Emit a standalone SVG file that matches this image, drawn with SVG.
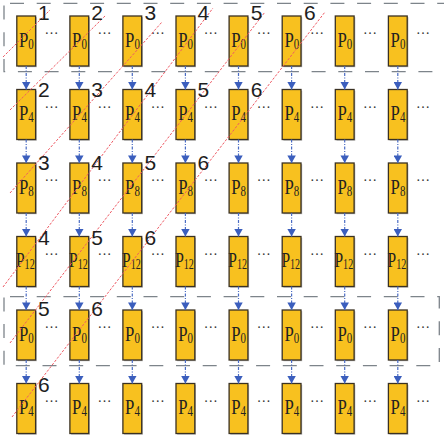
<svg xmlns="http://www.w3.org/2000/svg" xmlns:xlink="http://www.w3.org/1999/xlink" width="444" height="441" viewBox="0 0 444 441">
<style>
.sh{fill:#9c9c9c;opacity:.75}
.box{fill:#F8C11F;stroke:#3a3122;stroke-width:1.3}
.p{font-family:"Liberation Serif","Times New Roman",serif;font-size:21.5px;fill:#222}
.s{font-size:14px}
.d{font-family:"Liberation Serif","Times New Roman",serif;font-size:14px;fill:#333;text-anchor:middle}
.lb{font-family:"Liberation Sans",Arial,sans-serif;font-size:21px;fill:#1e1e1e}
.frame{fill:none;stroke:#7d848a;stroke-width:1.3;stroke-dasharray:14 12.7;stroke-dashoffset:20.7}
.red{fill:none;stroke:#EE5A64;stroke-width:1;stroke-dasharray:2.5 1.6}
.con path{fill:none;stroke:#4a6cc4;stroke-width:1.2;stroke-dasharray:3 1.5 1 1.5;marker-end:url(#ah)}
</style>
<defs>
<marker id="ah" markerUnits="userSpaceOnUse" markerWidth="9" markerHeight="8" refX="4.25" refY="7.6" orient="0" viewBox="0 0 9 8">
<path d="M0,0 L8.5,0 L4.25,7.6 Z" fill="#3B5EBD"/>
</marker>
<g id="bx"><rect class="sh" x="1.2" y="1.2" width="18.8" height="50"/><rect class="box" width="18.8" height="50"/></g>
</defs>
<g id="frames">
<rect class="frame" x="4" y="3.3" width="450" height="68.4"/>
<rect class="frame" x="4" y="296.7" width="435.3" height="69"/>
</g>
<g id="nodes">
<g id="n1_1" transform="translate(16.8,16)"><use href="#bx"/><text class="p" transform="translate(2.2,30.7) scale(0.78,1)">P<tspan class="s" dy="2">0</tspan></text></g>
<g id="n1_2" transform="translate(69.9,16)"><use href="#bx"/><text class="p" transform="translate(2.2,30.7) scale(0.78,1)">P<tspan class="s" dy="2">0</tspan></text></g>
<g id="n1_3" transform="translate(122.9,16)"><use href="#bx"/><text class="p" transform="translate(2.2,30.7) scale(0.78,1)">P<tspan class="s" dy="2">0</tspan></text></g>
<g id="n1_4" transform="translate(176,16)"><use href="#bx"/><text class="p" transform="translate(2.2,30.7) scale(0.78,1)">P<tspan class="s" dy="2">0</tspan></text></g>
<g id="n1_5" transform="translate(229.1,16)"><use href="#bx"/><text class="p" transform="translate(2.2,30.7) scale(0.78,1)">P<tspan class="s" dy="2">0</tspan></text></g>
<g id="n1_6" transform="translate(282.2,16)"><use href="#bx"/><text class="p" transform="translate(2.2,30.7) scale(0.78,1)">P<tspan class="s" dy="2">0</tspan></text></g>
<g id="n1_7" transform="translate(335.3,16)"><use href="#bx"/><text class="p" transform="translate(2.2,30.7) scale(0.78,1)">P<tspan class="s" dy="2">0</tspan></text></g>
<g id="n1_8" transform="translate(388.4,16)"><use href="#bx"/><text class="p" transform="translate(2.2,30.7) scale(0.78,1)">P<tspan class="s" dy="2">0</tspan></text></g>

<g id="n2_1" transform="translate(16.8,89.5)"><use href="#bx"/><text class="p" transform="translate(2.2,30.7) scale(0.78,1)">P<tspan class="s" dy="2">4</tspan></text></g>
<g id="n2_2" transform="translate(69.9,89.5)"><use href="#bx"/><text class="p" transform="translate(2.2,30.7) scale(0.78,1)">P<tspan class="s" dy="2">4</tspan></text></g>
<g id="n2_3" transform="translate(122.9,89.5)"><use href="#bx"/><text class="p" transform="translate(2.2,30.7) scale(0.78,1)">P<tspan class="s" dy="2">4</tspan></text></g>
<g id="n2_4" transform="translate(176,89.5)"><use href="#bx"/><text class="p" transform="translate(2.2,30.7) scale(0.78,1)">P<tspan class="s" dy="2">4</tspan></text></g>
<g id="n2_5" transform="translate(229.1,89.5)"><use href="#bx"/><text class="p" transform="translate(2.2,30.7) scale(0.78,1)">P<tspan class="s" dy="2">4</tspan></text></g>
<g id="n2_6" transform="translate(282.2,89.5)"><use href="#bx"/><text class="p" transform="translate(2.2,30.7) scale(0.78,1)">P<tspan class="s" dy="2">4</tspan></text></g>
<g id="n2_7" transform="translate(335.3,89.5)"><use href="#bx"/><text class="p" transform="translate(2.2,30.7) scale(0.78,1)">P<tspan class="s" dy="2">4</tspan></text></g>
<g id="n2_8" transform="translate(388.4,89.5)"><use href="#bx"/><text class="p" transform="translate(2.2,30.7) scale(0.78,1)">P<tspan class="s" dy="2">4</tspan></text></g>

<g id="n3_1" transform="translate(16.8,163)"><use href="#bx"/><text class="p" transform="translate(2.2,30.7) scale(0.78,1)">P<tspan class="s" dy="2">8</tspan></text></g>
<g id="n3_2" transform="translate(69.9,163)"><use href="#bx"/><text class="p" transform="translate(2.2,30.7) scale(0.78,1)">P<tspan class="s" dy="2">8</tspan></text></g>
<g id="n3_3" transform="translate(122.9,163)"><use href="#bx"/><text class="p" transform="translate(2.2,30.7) scale(0.78,1)">P<tspan class="s" dy="2">8</tspan></text></g>
<g id="n3_4" transform="translate(176,163)"><use href="#bx"/><text class="p" transform="translate(2.2,30.7) scale(0.78,1)">P<tspan class="s" dy="2">8</tspan></text></g>
<g id="n3_5" transform="translate(229.1,163)"><use href="#bx"/><text class="p" transform="translate(2.2,30.7) scale(0.78,1)">P<tspan class="s" dy="2">8</tspan></text></g>
<g id="n3_6" transform="translate(282.2,163)"><use href="#bx"/><text class="p" transform="translate(2.2,30.7) scale(0.78,1)">P<tspan class="s" dy="2">8</tspan></text></g>
<g id="n3_7" transform="translate(335.3,163)"><use href="#bx"/><text class="p" transform="translate(2.2,30.7) scale(0.78,1)">P<tspan class="s" dy="2">8</tspan></text></g>
<g id="n3_8" transform="translate(388.4,163)"><use href="#bx"/><text class="p" transform="translate(2.2,30.7) scale(0.78,1)">P<tspan class="s" dy="2">8</tspan></text></g>

<g id="n4_1" transform="translate(16.8,236.5)"><use href="#bx"/><text class="p" transform="translate(-0.8,30.7) scale(0.72,1)">P<tspan class="s" dy="2">12</tspan></text></g>
<g id="n4_2" transform="translate(69.9,236.5)"><use href="#bx"/><text class="p" transform="translate(-0.8,30.7) scale(0.72,1)">P<tspan class="s" dy="2">12</tspan></text></g>
<g id="n4_3" transform="translate(122.9,236.5)"><use href="#bx"/><text class="p" transform="translate(-0.8,30.7) scale(0.72,1)">P<tspan class="s" dy="2">12</tspan></text></g>
<g id="n4_4" transform="translate(176,236.5)"><use href="#bx"/><text class="p" transform="translate(-0.8,30.7) scale(0.72,1)">P<tspan class="s" dy="2">12</tspan></text></g>
<g id="n4_5" transform="translate(229.1,236.5)"><use href="#bx"/><text class="p" transform="translate(-0.8,30.7) scale(0.72,1)">P<tspan class="s" dy="2">12</tspan></text></g>
<g id="n4_6" transform="translate(282.2,236.5)"><use href="#bx"/><text class="p" transform="translate(-0.8,30.7) scale(0.72,1)">P<tspan class="s" dy="2">12</tspan></text></g>
<g id="n4_7" transform="translate(335.3,236.5)"><use href="#bx"/><text class="p" transform="translate(-0.8,30.7) scale(0.72,1)">P<tspan class="s" dy="2">12</tspan></text></g>
<g id="n4_8" transform="translate(388.4,236.5)"><use href="#bx"/><text class="p" transform="translate(-0.8,30.7) scale(0.72,1)">P<tspan class="s" dy="2">12</tspan></text></g>

<g id="n5_1" transform="translate(16.8,310)"><use href="#bx"/><text class="p" transform="translate(2.2,30.7) scale(0.78,1)">P<tspan class="s" dy="2">0</tspan></text></g>
<g id="n5_2" transform="translate(69.9,310)"><use href="#bx"/><text class="p" transform="translate(2.2,30.7) scale(0.78,1)">P<tspan class="s" dy="2">0</tspan></text></g>
<g id="n5_3" transform="translate(122.9,310)"><use href="#bx"/><text class="p" transform="translate(2.2,30.7) scale(0.78,1)">P<tspan class="s" dy="2">0</tspan></text></g>
<g id="n5_4" transform="translate(176,310)"><use href="#bx"/><text class="p" transform="translate(2.2,30.7) scale(0.78,1)">P<tspan class="s" dy="2">0</tspan></text></g>
<g id="n5_5" transform="translate(229.1,310)"><use href="#bx"/><text class="p" transform="translate(2.2,30.7) scale(0.78,1)">P<tspan class="s" dy="2">0</tspan></text></g>
<g id="n5_6" transform="translate(282.2,310)"><use href="#bx"/><text class="p" transform="translate(2.2,30.7) scale(0.78,1)">P<tspan class="s" dy="2">0</tspan></text></g>
<g id="n5_7" transform="translate(335.3,310)"><use href="#bx"/><text class="p" transform="translate(2.2,30.7) scale(0.78,1)">P<tspan class="s" dy="2">0</tspan></text></g>
<g id="n5_8" transform="translate(388.4,310)"><use href="#bx"/><text class="p" transform="translate(2.2,30.7) scale(0.78,1)">P<tspan class="s" dy="2">0</tspan></text></g>

<g id="n6_1" transform="translate(16.8,383.5)"><use href="#bx"/><text class="p" transform="translate(2.2,30.7) scale(0.78,1)">P<tspan class="s" dy="2">4</tspan></text></g>
<g id="n6_2" transform="translate(69.9,383.5)"><use href="#bx"/><text class="p" transform="translate(2.2,30.7) scale(0.78,1)">P<tspan class="s" dy="2">4</tspan></text></g>
<g id="n6_3" transform="translate(122.9,383.5)"><use href="#bx"/><text class="p" transform="translate(2.2,30.7) scale(0.78,1)">P<tspan class="s" dy="2">4</tspan></text></g>
<g id="n6_4" transform="translate(176,383.5)"><use href="#bx"/><text class="p" transform="translate(2.2,30.7) scale(0.78,1)">P<tspan class="s" dy="2">4</tspan></text></g>
<g id="n6_5" transform="translate(229.1,383.5)"><use href="#bx"/><text class="p" transform="translate(2.2,30.7) scale(0.78,1)">P<tspan class="s" dy="2">4</tspan></text></g>
<g id="n6_6" transform="translate(282.2,383.5)"><use href="#bx"/><text class="p" transform="translate(2.2,30.7) scale(0.78,1)">P<tspan class="s" dy="2">4</tspan></text></g>
<g id="n6_7" transform="translate(335.3,383.5)"><use href="#bx"/><text class="p" transform="translate(2.2,30.7) scale(0.78,1)">P<tspan class="s" dy="2">4</tspan></text></g>
<g id="n6_8" transform="translate(388.4,383.5)"><use href="#bx"/><text class="p" transform="translate(2.2,30.7) scale(0.78,1)">P<tspan class="s" dy="2">4</tspan></text></g>
</g>
<g id="dots" class="d">
<text x="51.5" y="34.3">…</text><text x="104.6" y="34.3">…</text><text x="157.7" y="34.3">…</text><text x="210.7" y="34.3">…</text><text x="263.8" y="34.3">…</text><text x="316.9" y="34.3">…</text><text x="370" y="34.3">…</text><text x="423.1" y="34.3">…</text>
<text x="51.5" y="107.8">…</text><text x="104.6" y="107.8">…</text><text x="157.7" y="107.8">…</text><text x="210.7" y="107.8">…</text><text x="263.8" y="107.8">…</text><text x="316.9" y="107.8">…</text><text x="370" y="107.8">…</text><text x="423.1" y="107.8">…</text>
<text x="51.5" y="181.3">…</text><text x="104.6" y="181.3">…</text><text x="157.7" y="181.3">…</text><text x="210.7" y="181.3">…</text><text x="263.8" y="181.3">…</text><text x="316.9" y="181.3">…</text><text x="370" y="181.3">…</text><text x="423.1" y="181.3">…</text>
<text x="51.5" y="254.8">…</text><text x="104.6" y="254.8">…</text><text x="157.7" y="254.8">…</text><text x="210.7" y="254.8">…</text><text x="263.8" y="254.8">…</text><text x="316.9" y="254.8">…</text><text x="370" y="254.8">…</text><text x="423.1" y="254.8">…</text>
<text x="51.5" y="328.3">…</text><text x="104.6" y="328.3">…</text><text x="157.7" y="328.3">…</text><text x="210.7" y="328.3">…</text><text x="263.8" y="328.3">…</text><text x="316.9" y="328.3">…</text><text x="370" y="328.3">…</text><text x="423.1" y="328.3">…</text>
<text x="51.5" y="401.8">…</text><text x="104.6" y="401.8">…</text><text x="157.7" y="401.8">…</text><text x="210.7" y="401.8">…</text><text x="263.8" y="401.8">…</text><text x="316.9" y="401.8">…</text><text x="370" y="401.8">…</text><text x="423.1" y="401.8">…</text>
</g>
<g id="connectors" class="con">
<path d="M26.2,66V89.5"/><path d="M79.3,66V89.5"/><path d="M132.3,66V89.5"/><path d="M185.4,66V89.5"/><path d="M238.5,66V89.5"/><path d="M291.6,66V89.5"/><path d="M344.7,66V89.5"/><path d="M397.8,66V89.5"/>
<path d="M26.2,139.5V163"/><path d="M79.3,139.5V163"/><path d="M132.3,139.5V163"/><path d="M185.4,139.5V163"/><path d="M238.5,139.5V163"/><path d="M291.6,139.5V163"/><path d="M344.7,139.5V163"/><path d="M397.8,139.5V163"/>
<path d="M26.2,213V236.5"/><path d="M79.3,213V236.5"/><path d="M132.3,213V236.5"/><path d="M185.4,213V236.5"/><path d="M238.5,213V236.5"/><path d="M291.6,213V236.5"/><path d="M344.7,213V236.5"/><path d="M397.8,213V236.5"/>
<path d="M26.2,286.5V310"/><path d="M79.3,286.5V310"/><path d="M132.3,286.5V310"/><path d="M185.4,286.5V310"/><path d="M238.5,286.5V310"/><path d="M291.6,286.5V310"/><path d="M344.7,286.5V310"/><path d="M397.8,286.5V310"/>
<path d="M26.2,360V383.5"/><path d="M79.3,360V383.5"/><path d="M132.3,360V383.5"/><path d="M185.4,360V383.5"/><path d="M238.5,360V383.5"/><path d="M291.6,360V383.5"/><path d="M344.7,360V383.5"/><path d="M397.8,360V383.5"/>
</g>
<g id="wavefronts">
<line class="red" x1="3" y1="57" x2="50" y2="10"/>
<line class="red" x1="10" y1="110" x2="106" y2="15"/>
<line class="red" x1="10" y1="193" x2="162" y2="22"/>
<line class="red" x1="3" y1="287" x2="213" y2="8"/>
<line class="red" x1="10" y1="343" x2="265" y2="12"/>
<line class="red" x1="12" y1="417" x2="325" y2="12"/>
</g>
<g id="labels" class="lb">
<text x="38" y="20">1</text><text x="91.2" y="20">2</text><text x="144.4" y="20">3</text><text x="197.6" y="20">4</text><text x="250.8" y="20">5</text><text x="304" y="20">6</text>
<text x="38" y="97">2</text><text x="91.2" y="97">3</text><text x="144.4" y="97">4</text><text x="197.6" y="97">5</text><text x="250.8" y="97">6</text>
<text x="38" y="170">3</text><text x="91.2" y="170">4</text><text x="144.4" y="170">5</text><text x="197.6" y="170">6</text>
<text x="38" y="245">4</text><text x="91.2" y="245">5</text><text x="144.4" y="245">6</text>
<text x="38" y="316">5</text><text x="91.2" y="316">6</text>
<text x="38" y="392">6</text>
</g>
</svg>
